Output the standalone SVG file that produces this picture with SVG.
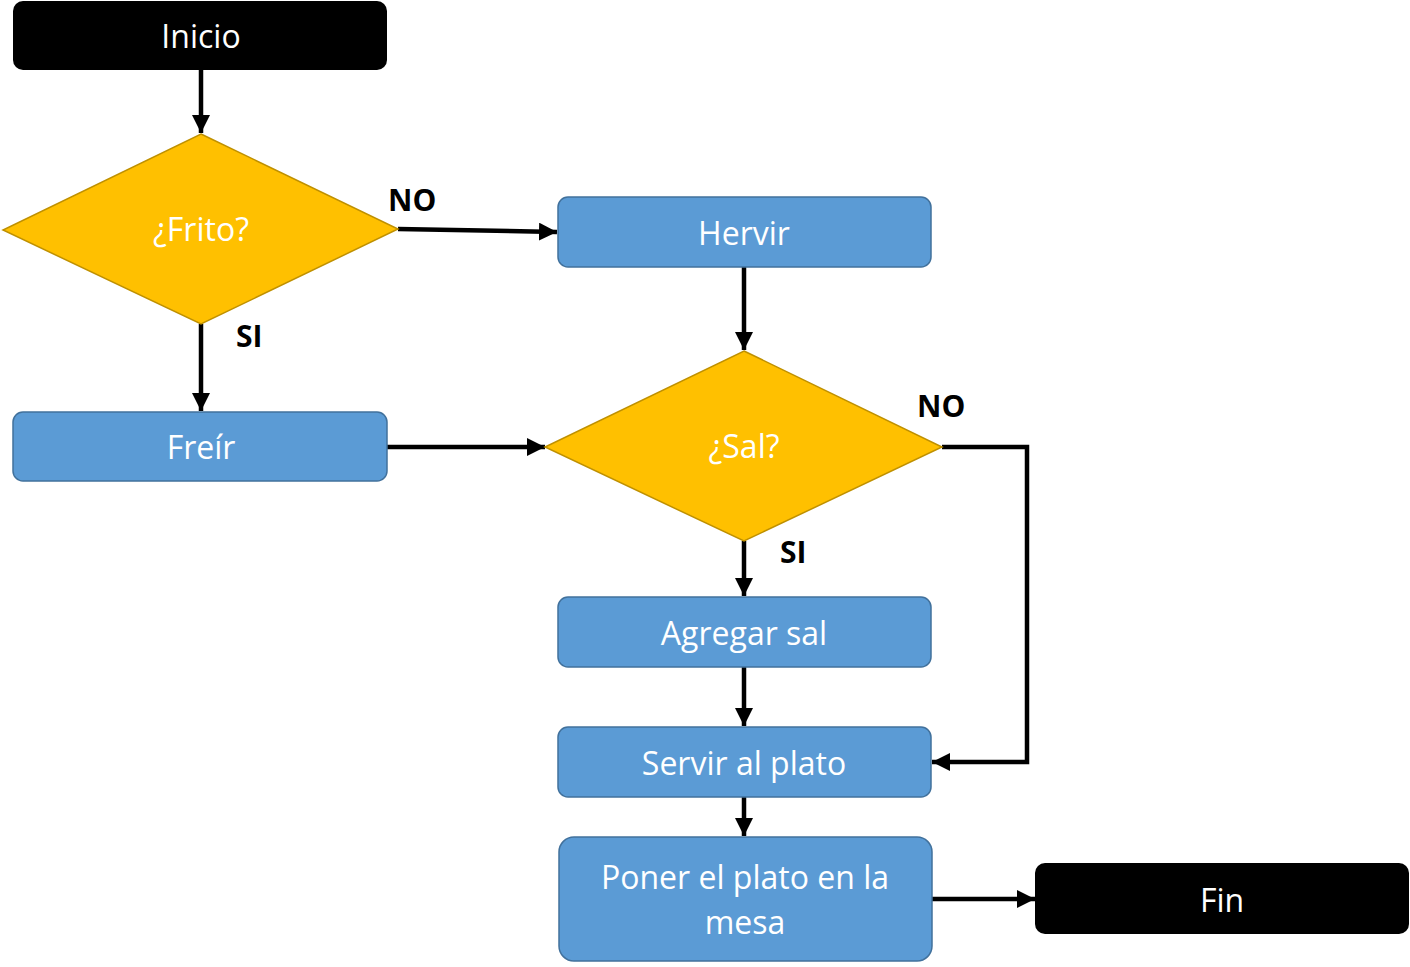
<svg xmlns="http://www.w3.org/2000/svg" width="1410" height="967" viewBox="0 0 1410 967">
<style>
.term{fill:#000000;}
.proc{fill:#5B9BD5;stroke:#41719C;stroke-width:1.5;}
.dec{fill:#FFC000;stroke:#BF9000;stroke-width:1.5;}
.t{font-family:"Open Sans","Noto Sans",sans-serif;font-size:32px;fill:#FFFFFF;text-anchor:middle;}
.lbl{font-family:"Open Sans","Noto Sans",sans-serif;font-size:30px;font-weight:bold;fill:#000000;}
.c{fill:none;stroke:#000000;stroke-width:4.5;marker-end:url(#ah);}
</style>
<defs>
<marker id="ah" viewBox="0 0 10 10" refX="10" refY="5" markerWidth="4" markerHeight="4" markerUnits="strokeWidth" orient="auto">
<path d="M0,0 L10,5 L0,10 z" fill="#000000"/>
</marker>
</defs>
<g id="connectors">
<path class="c" d="M201,70 L201,133"/>
<path class="c" d="M398,229 L557,232"/>
<path class="c" d="M201,324 L201,411"/>
<path class="c" d="M744,267 L744,350"/>
<path class="c" d="M387,447 L545,447"/>
<path class="c" d="M942,447 L1027,447 L1027,762 L932,762"/>
<path class="c" d="M744,541 L744,596"/>
<path class="c" d="M744,667 L744,726"/>
<path class="c" d="M744,797 L744,836"/>
<path class="c" d="M932,899 L1035,899"/>
<text class="lbl" x="388" y="211">NO</text>
<text class="lbl" x="236" y="347">SI</text>
<text class="lbl" x="917" y="417">NO</text>
<text class="lbl" x="780" y="563">SI</text>
</g>
<g id="inicio">
<rect class="term" x="13" y="1" width="374" height="69" rx="10"/>
<text class="t" x="201" y="48">Inicio</text>
</g>
<g id="frito">
<polygon class="dec" points="201,134 398,229 201,324 3,230"/>
<text class="t" x="201" y="241">¿Frito?</text>
</g>
<g id="hervir">
<rect class="proc" x="558" y="197" width="373" height="70" rx="10"/>
<text class="t" x="744" y="245">Hervir</text>
</g>
<g id="freir">
<rect class="proc" x="13" y="412" width="374" height="69" rx="10"/>
<text class="t" x="201" y="459">Freír</text>
</g>
<g id="sal">
<polygon class="dec" points="744,351 942,447 744,541 545,447"/>
<text class="t" x="744" y="458">¿Sal?</text>
</g>
<g id="agregar">
<rect class="proc" x="558" y="597" width="373" height="70" rx="10"/>
<text class="t" x="744" y="645">Agregar sal</text>
</g>
<g id="servir">
<rect class="proc" x="558" y="727" width="373" height="70" rx="10"/>
<text class="t" x="744" y="775">Servir al plato</text>
</g>
<g id="poner">
<rect class="proc" x="559" y="837" width="373" height="124" rx="15"/>
<text class="t" x="745" y="889">Poner el plato en la</text>
<text class="t" x="745" y="934">mesa</text>
</g>
<g id="fin">
<rect class="term" x="1035" y="863" width="374" height="71" rx="10"/>
<text class="t" x="1222" y="912">Fin</text>
</g>
</svg>
